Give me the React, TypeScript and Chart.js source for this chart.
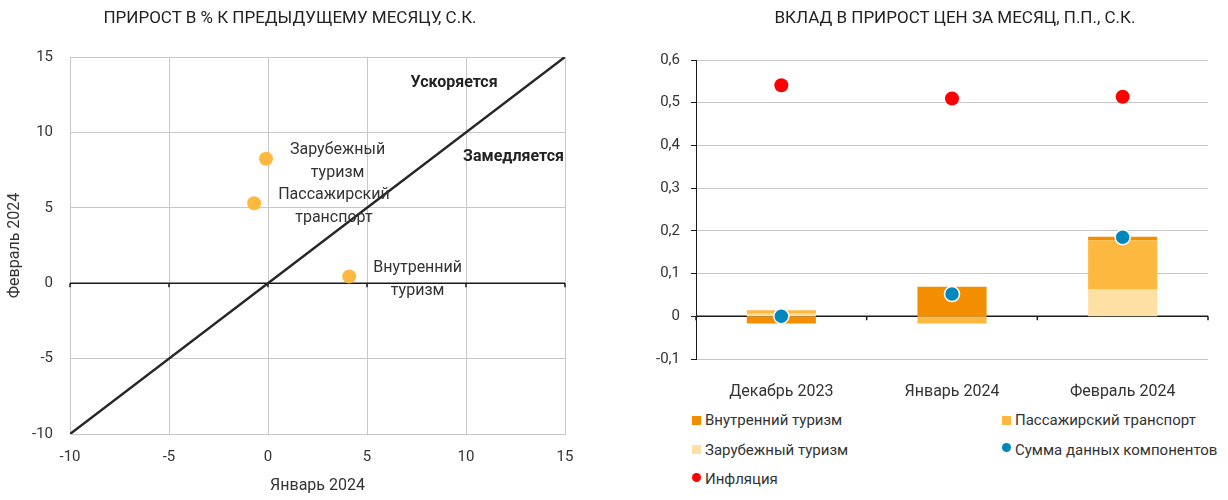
import React, { useEffect, useRef } from 'react';
import { Chart, registerables } from 'chart.js';

Chart.register(...registerables);

const FONT = 'Roboto, "Noto Sans", sans-serif';
Chart.defaults.font.family = FONT;
Chart.defaults.color = '#333';

// ---------- Left chart (scatter) ----------
const LEFT_TITLE = 'ПРИРОСТ В % К ПРЕДЫДУЩЕМУ МЕСЯЦУ, С.К.';
const X_TITLE = 'Январь 2024';
const Y_TITLE = 'Февраль 2024';
const SCATTER_NAMES = [
  ['Зарубежный', 'туризм'],
  ['Пассажирский', 'транспорт'],
  ['Внутренний', 'туризм'],
];
const SCATTER_JAN = [-0.1, -0.7, 4.1];
const SCATTER_FEB = [8.25, 5.3, 0.45];
const DIAGONAL = [-10, 15];
const AXIS_MIN = -10;
const AXIS_MAX = 15;
const AXIS_STEP = 5;
const ZONE_LABELS = ['Ускоряется', 'Замедляется'];
const ZONE_X = [9.4, 12.4];
const ZONE_Y = [13.25, 8.35];

// ---------- Right chart (stacked bars) ----------
const RIGHT_TITLE = 'ВКЛАД В ПРИРОСТ ЦЕН ЗА МЕСЯЦ, П.П., С.К.';
const MONTHS = ['Декабрь 2023', 'Январь 2024', 'Февраль 2024'];
const NAME_DOMESTIC = 'Внутренний туризм';
const NAME_TRANSPORT = 'Пассажирский транспорт';
const NAME_FOREIGN = 'Зарубежный туризм';
const NAME_SUM = 'Сумма данных компонентов';
const NAME_INFL = 'Инфляция';
const DOMESTIC = [-0.017, 0.069, 0.008];
const TRANSPORT = [0.008, -0.017, 0.115];
const FOREIGN = [0.006, 0.0, 0.063];
const SUM = [0.0, 0.052, 0.185];
const INFLATION = [0.541, 0.51, 0.514];
const R_MIN = -0.1;
const R_MAX = 0.6;
const R_STEP = 0.1;

const C_DOMESTIC = '#F28E00';
const C_TRANSPORT = '#FDB840';
const C_FOREIGN = '#FEE0A5';
const C_SUM = '#0087BE';
const C_INFL = '#FF0000';
const C_POINT = '#FDB93F';
const GRID = '#c8c8c8';

const leftPlugin = {
  id: 'leftDecor',
  beforeDatasetsDraw(chart: any) {
    const { ctx, chartArea, scales } = chart;
    const x = scales.x;
    const y = scales.y;
    const y0 = y.getPixelForValue(0);
    ctx.save();
    ctx.strokeStyle = '#1a1a1a';
    ctx.lineWidth = 1.5;
    ctx.beginPath();
    ctx.moveTo(chartArea.left, y0);
    ctx.lineTo(chartArea.right, y0);
    x.ticks.forEach((t: any) => {
      const px = x.getPixelForValue(t.value);
      ctx.moveTo(px, y0);
      ctx.lineTo(px, y0 + 4);
    });
    ctx.stroke();
    ctx.restore();
  },
  afterDatasetsDraw(chart: any) {
    const { ctx, scales } = chart;
    const x = scales.x;
    const y = scales.y;
    ctx.save();
    ctx.fillStyle = '#333';
    ctx.font = `16px ${FONT}`;
    ctx.textAlign = 'center';
    ctx.textBaseline = 'middle';
    SCATTER_NAMES.forEach((lines, i) => {
      const px = x.getPixelForValue(SCATTER_JAN[i]);
      const py = y.getPixelForValue(SCATTER_FEB[i]);
      const w = Math.max(...lines.map((l) => ctx.measureText(l).width));
      const cx = px + 24 + w / 2;
      const lh = 23;
      const top = py + 3 - ((lines.length - 1) * lh) / 2;
      lines.forEach((l, j) => ctx.fillText(l, cx, top + j * lh));
    });
    ctx.fillStyle = '#222';
    ctx.font = `bold 16px ${FONT}`;
    ZONE_LABELS.forEach((t, i) => {
      ctx.fillText(t, x.getPixelForValue(ZONE_X[i]), y.getPixelForValue(ZONE_Y[i]));
    });
    ctx.restore();
  },
};

const rightPlugin = {
  id: 'rightDecor',
  beforeDatasetsDraw(chart: any) {
    const { ctx, scales } = chart;
    const x = scales.x;
    const y = scales.y;
    const y0 = y.getPixelForValue(0);
    const step = x.getPixelForValue(1) - x.getPixelForValue(0);
    const start = x.getPixelForValue(0) - step / 2;
    ctx.save();
    ctx.strokeStyle = '#1a1a1a';
    ctx.lineWidth = 1.5;
    ctx.beginPath();
    ctx.moveTo(start, y0);
    ctx.lineTo(start + step * MONTHS.length, y0);
    for (let i = 0; i <= MONTHS.length; i++) {
      const px = start + i * step;
      ctx.moveTo(px, y0);
      ctx.lineTo(px, y0 + 4);
    }
    ctx.stroke();
    ctx.restore();
  },
};

const fmt = (v: number) => (Math.abs(v) < 1e-9 ? '0' : v.toFixed(1).replace('.', ','));

export default function App() {
  const leftRef = useRef<HTMLCanvasElement>(null);
  const rightRef = useRef<HTMLCanvasElement>(null);

  useEffect(() => {
    const left = new Chart(leftRef.current as HTMLCanvasElement, {
      type: 'scatter',
      data: {
        datasets: [
          {
            type: 'scatter',
            data: SCATTER_JAN.map((v, i) => ({ x: v, y: SCATTER_FEB[i] })),
            backgroundColor: C_POINT,
            borderWidth: 0,
            pointRadius: 7,
            pointHoverRadius: 7,
          },
          {
            type: 'line',
            data: DIAGONAL.map((v) => ({ x: v, y: v })),
            borderColor: '#262626',
            borderWidth: 2.5,
            pointRadius: 0,
            fill: false,
          },
        ],
      } as any,
      options: {
        responsive: false,
        animation: false,
        layout: { padding: { top: 57, right: 45, bottom: 0, left: 0 } },
        plugins: { legend: { display: false }, tooltip: { enabled: false } },
        scales: {
          x: {
            type: 'linear',
            min: AXIS_MIN,
            max: AXIS_MAX,
            ticks: { stepSize: AXIS_STEP, padding: 14, color: '#333', font: { size: 15 } },
            grid: { color: GRID, drawTicks: false },
            border: { color: GRID },
            title: { display: true, text: X_TITLE, color: '#333', font: { size: 16 }, padding: { top: 0, bottom: 4 } },
            afterFit: (s: any) => {
              s.height = 66;
            },
          },
          y: {
            type: 'linear',
            min: AXIS_MIN,
            max: AXIS_MAX,
            ticks: { stepSize: AXIS_STEP, padding: 17, color: '#333', font: { size: 15 } },
            grid: { color: GRID, drawTicks: false },
            border: { color: GRID },
            title: { display: true, text: Y_TITLE, color: '#333', font: { size: 16 }, padding: { top: 5, bottom: 0 } },
            afterFit: (s: any) => {
              s.width = 70;
            },
          },
        },
      } as any,
      plugins: [leftPlugin],
    });

    const right = new Chart(rightRef.current as HTMLCanvasElement, {
      type: 'bar',
      data: {
        labels: MONTHS,
        datasets: [
          {
            type: 'line',
            label: NAME_SUM,
            data: SUM,
            showLine: false,
            stack: 'sum',
            pointRadius: 7.5,
            pointHoverRadius: 7.5,
            pointBackgroundColor: C_SUM,
            pointBorderColor: '#ffffff',
            pointBorderWidth: 1.5,
            borderColor: C_SUM,
          },
          {
            type: 'line',
            label: NAME_INFL,
            data: INFLATION,
            showLine: false,
            stack: 'infl',
            pointRadius: 7,
            pointHoverRadius: 7,
            pointBackgroundColor: C_INFL,
            pointBorderWidth: 0,
            borderColor: C_INFL,
          },
          { type: 'bar', label: NAME_FOREIGN, data: FOREIGN, backgroundColor: C_FOREIGN, stack: 'c' },
          { type: 'bar', label: NAME_TRANSPORT, data: TRANSPORT, backgroundColor: C_TRANSPORT, stack: 'c' },
          { type: 'bar', label: NAME_DOMESTIC, data: DOMESTIC, backgroundColor: C_DOMESTIC, stack: 'c' },
        ],
      } as any,
      options: {
        responsive: false,
        animation: false,
        barPercentage: 0.405,
        categoryPercentage: 1,
        layout: { padding: { top: 60, right: 20, bottom: 0, left: 0 } },
        plugins: { legend: { display: false }, tooltip: { enabled: false } },
        scales: {
          x: {
            stacked: true,
            grid: { display: false },
            border: { display: false },
            ticks: { padding: 15, color: '#333', font: { size: 16 } },
            afterFit: (s: any) => {
              s.height = 41;
            },
          },
          y: {
            stacked: true,
            min: R_MIN,
            max: R_MAX,
            ticks: { stepSize: R_STEP, padding: 11, color: '#333', font: { size: 15 }, callback: (v: any) => fmt(Number(v)) },
            grid: { color: GRID, tickColor: '#1a1a1a', tickLength: 5, drawTicks: true },
            border: { color: '#1a1a1a', width: 1 },
            afterFit: (s: any) => {
              s.width = 86;
            },
          },
        },
      } as any,
      plugins: [rightPlugin],
    });

    return () => {
      left.destroy();
      right.destroy();
    };
  }, []);

  const legendItems = [
    { label: NAME_DOMESTIC, color: C_DOMESTIC, circle: false },
    { label: NAME_TRANSPORT, color: C_TRANSPORT, circle: false },
    { label: NAME_FOREIGN, color: C_FOREIGN, circle: false },
    { label: NAME_SUM, color: C_SUM, circle: true },
    { label: NAME_INFL, color: C_INFL, circle: true },
  ];

  const titleStyle: React.CSSProperties = {
    position: 'absolute',
    top: 7,
    transform: 'translateX(-50%)',
    whiteSpace: 'nowrap',
    fontSize: 17,
    lineHeight: '20px',
    color: '#222',
  };

  return (
    <div
      style={{
        position: 'absolute',
        left: 0,
        top: 0,
        width: 1228,
        height: 500,
        fontFamily: FONT,
        color: '#333',
        background: '#fff',
        overflow: 'hidden',
      }}
    >
      <canvas ref={leftRef} width={610} height={500} style={{ position: 'absolute', left: 0, top: 0 }} />
      <canvas ref={rightRef} width={618} height={400} style={{ position: 'absolute', left: 610, top: 0 }} />
      <div style={{ ...titleStyle, left: 290 }}>{LEFT_TITLE}</div>
      <div style={{ ...titleStyle, left: 955 }}>{RIGHT_TITLE}</div>
      {legendItems.map((it, i) => {
        const col = i % 2;
        const row = Math.floor(i / 2);
        return (
          <div
            key={it.label}
            style={{
              position: 'absolute',
              left: col === 0 ? 692 : 1002,
              top: 410 + row * 29.5,
              height: 20,
              display: 'flex',
              alignItems: 'center',
              whiteSpace: 'nowrap',
              fontSize: 15,
              color: '#333',
            }}
          >
            <span
              style={{
                display: 'inline-block',
                width: 9,
                height: 9,
                background: it.color,
                borderRadius: it.circle ? '50%' : 0,
                marginRight: 4,
                position: 'relative',
                top: it.circle ? -2 : 0,
              }}
            />
            <span>{it.label}</span>
          </div>
        );
      })}
    </div>
  );
}
